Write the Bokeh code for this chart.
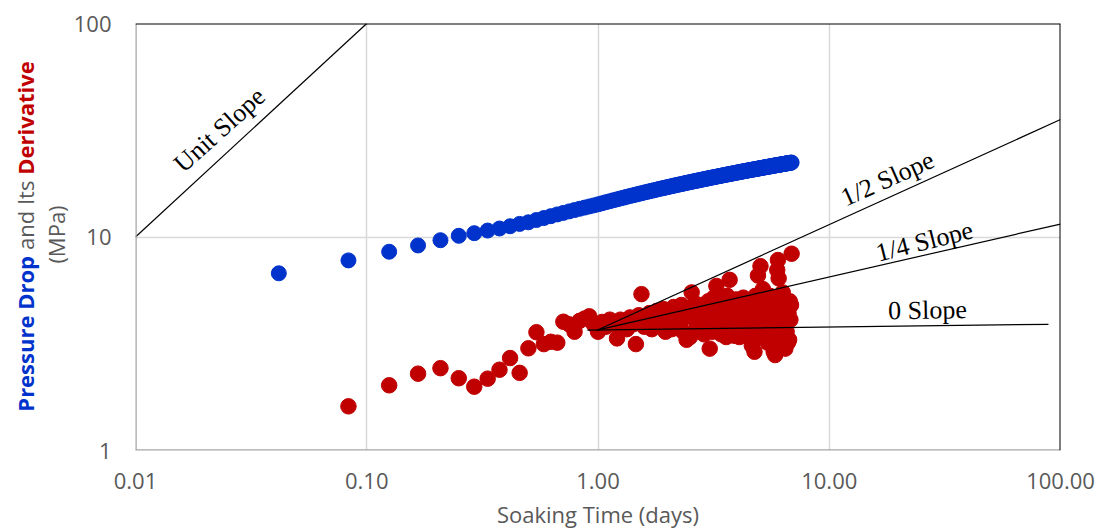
import math
from bokeh.plotting import figure
from bokeh.layouts import row
from bokeh.models import FixedTicker, Span, Label
from bokeh.embed import file_html
from bokeh.resources import INLINE

# ---------------- data ----------------
soak_hours = list(range(1, 166))            # hourly samples
time_days = [h / 24 for h in soak_hours]

pressure_drop = [
    6.76, 7.77, 8.53, 9.13, 9.66, 10.13, 10.42, 10.72, 10.96, 11.23,
    11.52, 11.72, 12.01, 12.27, 12.52, 12.76, 12.97, 13.18, 13.37, 13.56,
    13.73, 13.90, 14.06, 14.22, 14.39, 14.56, 14.71, 14.87, 15.01, 15.16,
    15.29, 15.43, 15.56, 15.68, 15.80, 15.92, 16.04, 16.15, 16.26, 16.37,
    16.47, 16.57, 16.67, 16.77, 16.86, 16.95, 17.04, 17.13, 17.22, 17.30,
    17.39, 17.47, 17.55, 17.63, 17.70, 17.78, 17.85, 17.93, 18.00, 18.07,
    18.14, 18.21, 18.27, 18.34, 18.40, 18.47, 18.53, 18.59, 18.66, 18.72,
    18.78, 18.83, 18.89, 18.95, 19.01, 19.06, 19.12, 19.17, 19.22, 19.28,
    19.33, 19.38, 19.43, 19.48, 19.53, 19.58, 19.63, 19.68, 19.72, 19.77,
    19.82, 19.86, 19.91, 19.95, 20.00, 20.04, 20.09, 20.13, 20.17, 20.21,
    20.26, 20.30, 20.34, 20.38, 20.42, 20.46, 20.50, 20.54, 20.58, 20.61,
    20.65, 20.69, 20.73, 20.76, 20.80, 20.84, 20.87, 20.91, 20.94, 20.98,
    21.01, 21.05, 21.08, 21.12, 21.15, 21.18, 21.22, 21.25, 21.28, 21.32,
    21.35, 21.38, 21.41, 21.44, 21.47, 21.51, 21.54, 21.57, 21.60, 21.63,
    21.66, 21.69, 21.72, 21.75, 21.77, 21.80, 21.83, 21.86, 21.89, 21.92,
    21.94, 21.97, 22.00, 22.03, 22.05, 22.08, 22.11, 22.14, 22.16, 22.19,
    22.21, 22.24, 22.27, 22.29, 22.32,
]

# derivative starts at the 2nd sample
deriv_time_days = time_days[1:]
derivative = [
    1.61, 2.02, 2.29, 2.43, 2.18, 1.99, 2.17, 2.39, 2.71, 2.31,
    3.01, 3.58, 3.15, 3.23, 3.20, 4.01, 3.90, 3.60, 4.05, 4.15,
    4.25, 3.90, 3.60,
    4.0, 3.8, 4.1, 3.9, 3.35, 4.1, 4.0, 3.7, 4.2, 3.9,
    3.15, 4.3, 5.4, 3.8, 4.1, 4.4, 3.7, 4.2, 4.5, 3.9,
    4.3, 4.6, 3.6, 4.4, 4.1, 3.7, 4.7, 4.3, 3.9, 4.5,
    4.8, 3.6, 4.2, 3.3, 4.6, 3.4, 5.5, 4.4, 4.9, 3.8,
    4.5, 3.7, 4.8, 4.2, 3.5, 4.6, 4.0, 5.0, 3.0, 4.4,
    3.6, 5.2, 4.1, 5.9, 3.7, 4.7, 4.3, 3.5, 5.0, 3.9,
    4.6, 3.4, 5.3, 4.0, 6.3, 4.5, 3.6, 4.9, 3.45, 4.2,
    5.1, 3.8, 4.6, 3.4, 4.9, 4.3, 3.7, 5.2, 4.0, 4.7,
    3.5, 4.4, 5.0, 3.9, 4.5, 3.3, 3.1, 4.8, 4.1, 2.9,
    5.3, 3.7, 4.4, 6.6, 3.4, 4.9, 7.3, 4.2, 3.6, 5.7,
    4.6, 3.9, 5.0, 3.5, 4.3, 3.2, 4.8, 4.0, 5.3, 3.7,
    4.5, 3.3, 4.9, 2.9, 4.2, 2.8, 3.8, 4.6, 7.0, 7.8,
    6.4, 3.6, 5.1, 4.3, 3.1, 4.7, 5.5, 3.9, 3.3, 4.5,
    3.0, 4.1, 3.6, 4.8, 3.2, 4.4, 3.3, 5.0, 4.1, 4.8,
    8.35,
]

# reference slope lines (start / end points)
unit_slope_x = [0.01, 0.1]
unit_slope_y = [10, 100]
half_slope_x = [0.99, 100]
half_slope_y = [3.66, 35.5]
quarter_slope_x = [0.99, 100]
quarter_slope_y = [3.66, 11.5]
zero_slope_x = [0.90, 88.7]
zero_slope_y = [3.66, 3.90]

x_ticks = [0.01, 0.1, 1, 10, 100]
x_tick_labels = ["0.01", "0.10", "1.00", "10.00", "100.00"]
y_ticks = [1, 10, 100]
y_tick_labels = ["1", "10", "100"]

# ---------------- layout constants ----------------
W, H = 1101, 531
TW = 70                       # width of the strip holding the y-axis title
FL, FR, FT, FB = 135, 1060, 23, 452   # frame edges in page pixels
GRAY = "#595959"
BLUE = "#0033cc"
RED = "#c00000"

# ---------------- y title strip ----------------
# its frame is aligned with the main chart's frame (page rows FT..FB)
t = figure(width=TW, height=H, x_range=(0, TW), y_range=(FB, FT),
           output_backend="svg", toolbar_location=None,
           x_axis_location=None, y_axis_location=None, min_border=0)
t.outline_line_color = None
t.grid.visible = False
t.border_fill_color = "white"
t.background_fill_color = "white"

FS = 22
for txt, start, color, style in (("Pressure Drop", 413, BLUE, "bold"),
                                 ("and Its", 250.5, GRAY, "normal"),
                                 ("Derivative", 175, RED, "bold")):
    t.add_layout(Label(x=24, y=start, text=txt, angle=math.pi / 2,
                       text_align="left", text_baseline="middle",
                       text_font="Open Sans", text_font_size=f"{FS}px",
                       text_font_style=style, text_color=color))
t.add_layout(Label(x=55, y=235, text="(MPa)", angle=math.pi / 2,
                   text_align="center", text_baseline="middle",
                   text_font="Open Sans", text_font_size=f"{FS}px", text_color=GRAY))

# ---------------- main chart ----------------
p = figure(width=W - TW, height=H, x_axis_type="log", y_axis_type="log",
           x_range=(0.01, 100), y_range=(1, 100),
           output_backend="svg", toolbar_location=None,
           min_border_left=FL - TW, min_border_right=W - FR,
           min_border_top=FT, min_border_bottom=H - FB)
p.outline_line_color = None
p.background_fill_color = "white"
p.border_fill_color = "white"


def px2x(px):
    return 10 ** ((px - FL) / ((FR - FL) / 4) - 2)


def py2y(py):
    return 10 ** (2 - (py - FT) / ((FB - FT) / 2))


for ax, ticks, labels in ((p.xaxis[0], x_ticks, x_tick_labels), (p.yaxis[0], y_ticks, y_tick_labels)):
    ax.ticker = FixedTicker(ticks=ticks)
    ax.major_label_overrides = {tk: lb for tk, lb in zip(ticks, labels)}
    ax.major_tick_line_color = None
    ax.minor_tick_line_color = None
    ax.major_tick_out = 0
    ax.major_tick_in = 0
    ax.axis_line_color = None
    ax.major_label_text_font = "Open Sans"
    ax.major_label_text_font_size = "22px"
    ax.major_label_text_color = GRAY

p.xaxis.major_label_standoff = 22
p.yaxis.major_label_standoff = 24
p.xaxis.axis_label = "Soaking Time (days)"
p.xaxis.axis_label_text_font = "Open Sans"
p.xaxis.axis_label_text_font_size = "22px"
p.xaxis.axis_label_text_font_style = "normal"
p.xaxis.axis_label_text_color = GRAY
p.xaxis.axis_label_standoff = 7

p.xgrid.ticker = FixedTicker(ticks=x_ticks)
p.ygrid.ticker = FixedTicker(ticks=y_ticks)
for g in (p.xgrid[0], p.ygrid[0]):
    g.grid_line_color = "#d9d9d9"
    g.grid_line_width = 1.5
    g.minor_grid_line_color = None

# data
p.scatter(deriv_time_days, derivative, size=15.5, color=RED, marker="circle")
p.scatter(time_days, pressure_drop, size=15, color=BLUE, marker="circle")

for xs, ys in ((unit_slope_x, unit_slope_y), (half_slope_x, half_slope_y),
               (quarter_slope_x, quarter_slope_y), (zero_slope_x, zero_slope_y)):
    p.line(xs, ys, line_color="black", line_width=1.2)

# frame borders
p.add_layout(Span(location=0.01, dimension="height", line_color="#a6a6a6", line_width=2.5))
p.add_layout(Span(location=1, dimension="width", line_color="#a6a6a6", line_width=2.5))
p.add_layout(Span(location=100, dimension="width", line_color="black", line_width=2))
p.add_layout(Span(location=100, dimension="height", line_color="black", line_width=2))

# slope annotations
SERIF = "Liberation Serif"
for txt, cx, cy, ang in (("Unit Slope", 219, 130, 42), ("1/2 Slope", 887, 179, 24),
                         ("1/4 Slope", 924, 242, 14), ("0 Slope", 927, 311, 1)):
    p.add_layout(Label(x=px2x(cx), y=py2y(cy), text=txt, angle=math.radians(ang),
                       text_align="center", text_baseline="middle",
                       text_font=SERIF, text_font_size="26px", text_color="black"))

layout = row(t, p, spacing=0)
open("out.html", "w").write(file_html(layout, INLINE))
